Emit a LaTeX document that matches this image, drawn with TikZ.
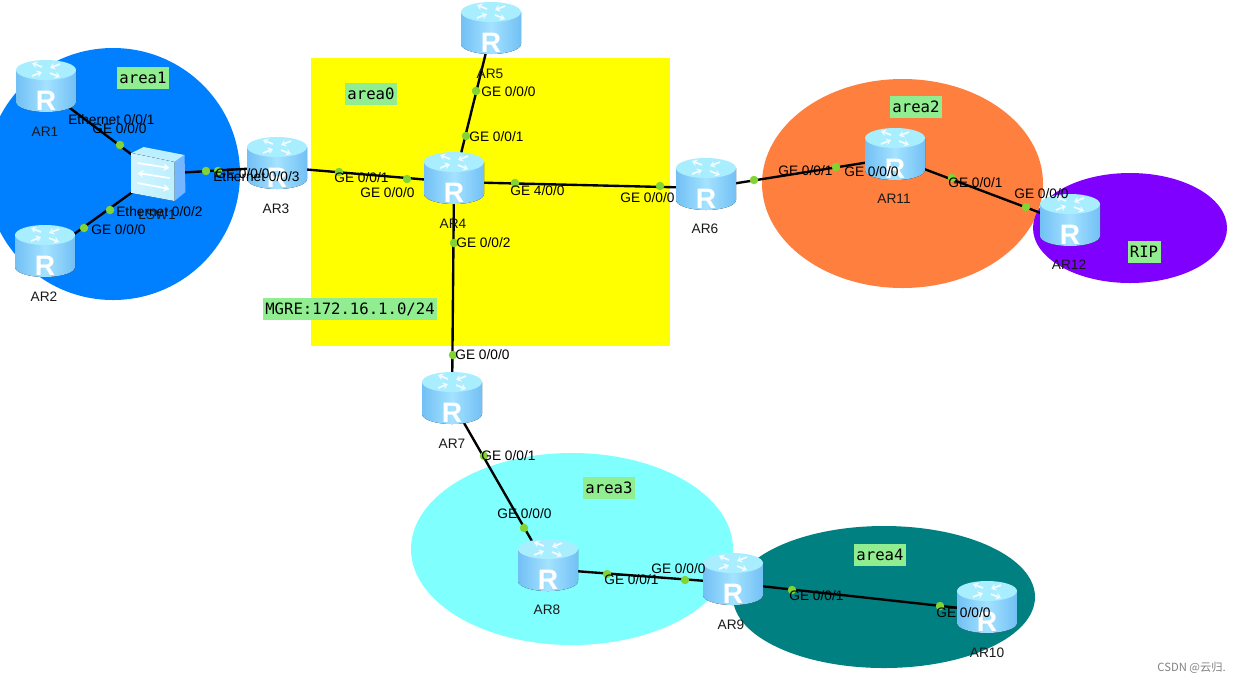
\documentclass[tikz,border=0pt]{standalone}
\usepackage{fontspec}
\setmainfont{Liberation Sans}
\newfontfamily\boxfont{DejaVu Sans Mono}
\newfontfamily\cjkfont{Noto Sans CJK SC}
\usetikzlibrary{arrows.meta,backgrounds}
\definecolor{AreaBlue}{HTML}{0080FF}
\definecolor{AreaYellow}{HTML}{FFFF00}
\definecolor{AreaOrange}{HTML}{FF7F3F}
\definecolor{AreaPurple}{HTML}{7F00FF}
\definecolor{AreaCyan}{HTML}{80FFFF}
\definecolor{AreaTeal}{HTML}{008080}
\definecolor{PortGreen}{HTML}{82D435}
\definecolor{TagGreen}{HTML}{90EE90}
\definecolor{RouterDark}{HTML}{72C0F5}
\definecolor{RouterLight}{HTML}{A4E2FF}
\definecolor{RouterTop}{HTML}{A8EEFF}
\definecolor{SwitchFront}{HTML}{BCEFFF}
\definecolor{SwitchSide}{HTML}{74B6FF}

\begin{document}
\begin{tikzpicture}[
    x=0.02cm,y=-0.02cm,
    link/.style={line width=1.35pt,black},
    port/.style={circle,fill=PortGreen,inner sep=0pt,minimum size=0.17cm},
    portlabel/.style={anchor=west,inner sep=0pt,font=\fontsize{7.8}{9}\selectfont,text=black},
    devlabel/.style={inner sep=0pt,font=\fontsize{7.8}{9}\selectfont,text=black!90},
    tag/.style={fill=TagGreen,inner sep=0pt,minimum height=0.44cm,font=\boxfont\fontsize{8.9}{10}\selectfont,text=black},
    routerbox/.style={minimum width=1.2cm,minimum height=1.22cm,inner sep=0pt,
      text=white,font=\bfseries\fontsize{16}{16}\selectfont,text height=0.8cm,text depth=0pt},
    swarrow/.style={white,line width=1pt,-{Stealth[length=1.2mm,width=1.5mm]}},
    rtarrow/.style={white!85!RouterTop,line width=1pt,-{Stealth[length=1mm,width=1.4mm]}},
    router/.pic={
      \fill[left color=RouterDark,right color=RouterDark,middle color=RouterLight]
        (-30,-20) -- (-30,12) arc[start angle=180,end angle=360,x radius=30,y radius=-10]
        -- (30,-20) -- cycle;
      \fill[RouterTop] (0,-20) ellipse[x radius=30,y radius=10];
      \draw[rtarrow] (-4,-23) -- (-14,-27);
      \draw[rtarrow] (14,-26) -- (4,-22);
      \draw[rtarrow] (-14,-14) -- (-4,-18);
      \draw[rtarrow] (4,-17) -- (14,-13);
      \node[routerbox] (box) at (0,0) {R};
    },
    lanswitch/.pic={
      \fill[SwitchFront] (-26,-21) -- (-14,-27) -- (27,-19) -- (17,-12) -- cycle;
      \fill[SwitchSide] (17,-12) -- (27,-19) -- (28,18) -- (17,27) -- cycle;
      \fill[left color=SwitchFront!70!white,right color=SwitchFront] (-26,-21) -- (17,-12) -- (17,27) -- (-26,19) -- cycle;
      \draw[swarrow] (-20,-11) -- (12,-6);
      \draw[swarrow] (12,4) -- (-20,-1);
      \draw[swarrow] (-20,9) -- (12,15);
      \node[minimum width=1.14cm,minimum height=1.12cm,inner sep=0pt] (box) at (0,0) {};
    }
  ]
    \useasboundingbox (0,0) rectangle (1239,684);

    % devices
    \foreach \n/\x/\y in {ar1/46/90,ar2/45/255,ar3/277/167,ar4/454/182,ar5/491/32,ar6/706/188,
      ar7/452/402,ar8/548/569,ar9/733/583,ar10/987/611,ar11/895/158,ar12/1070/224}
      \pic (\n) at (\x,\y) {router};
    \pic (lsw1) at (157.5,174) {lanswitch};

    \begin{scope}[on background layer]
      % areas
      \fill[AreaBlue] (113,174) ellipse[x radius=127,y radius=126];
      \fill[AreaYellow] (311,58) rectangle (670,346);
      \fill[AreaOrange] (902.5,183.5) ellipse[x radius=140.5,y radius=104.5];
      \fill[AreaPurple] (1130,228) ellipse[x radius=97,y radius=55];
      \fill[AreaCyan] (572,549) ellipse[x radius=161,y radius=96];
      \fill[AreaTeal] (884,597) ellipse[x radius=151,y radius=71];
      % links
      \foreach \a/\b in {ar1/lsw1,ar2/lsw1,lsw1/ar3,ar3/ar4,ar4/ar5,ar4/ar6,ar4/ar7,ar7/ar8,
        ar8/ar9,ar9/ar10,ar6/ar11,ar11/ar12}
        \draw[link] (\a box.center) -- (\b box.center);
    \end{scope}

    % ports
    \foreach \x/\y in {120/145,84/228,110/210,206/171,218/171,339/172,407/179,476/91,466/136,
      515/183,660/186,454/243,453/355,484/456,524/528,607/574,685/580,792/590,940/606,
      754/180,836/167,952/178,1026/207}
      \node[port] (p\x) at (\x,\y) {};

    % interface names
    \foreach \t/\x/\y [count=\i] in {{Ethernet 0/0/1}/68/120,{GE 0/0/0}/92/129,{Ethernet 0/0/2}/116/212,
      {GE 0/0/0}/91/230,{GE 0/0/0}/215/174,{Ethernet 0/0/3}/213/177,{GE 0/0/1}/334/178,{GE 0/0/0}/360/193,
      {GE 0/0/0}/481/92,{GE 0/0/1}/469/137,{GE 4/0/0}/510/191,{GE 0/0/0}/620/198,{GE 0/0/2}/456/243,
      {GE 0/0/0}/455/355,{GE 0/0/1}/481/456,{GE 0/0/0}/497/514,{GE 0/0/1}/604/580,{GE 0/0/0}/651/569,
      {GE 0/0/1}/789/596,{GE 0/0/0}/936/613,{GE 0/0/1}/778/171,{GE 0/0/0}/844/172,{GE 0/0/1}/948/183,
      {GE 0/0/0}/1014/194}
      \node[portlabel] (if\i) at (\x,\y) {\t};

    % device names
    \foreach \t/\x/\y in {AR1/45/132,AR2/44/297,AR3/276/209,AR4/453/224,AR5/490/74,AR6/705/229,
      AR7/452/444,AR8/547/610,AR9/731/625,AR10/987/653,AR11/894/199,AR12/1069/265,LSW1/157/215}
      \node[devlabel] (name\t) at (\x,\y) {\t};

    % area tags
    \node[tag,minimum width=1.04cm] (area1) at (143,78) {area1};
    \node[tag,minimum width=1.04cm] (area0) at (371,94) {area0};
    \node[tag,minimum width=1.04cm] (area2) at (916,107) {area2};
    \node[tag,minimum width=1.04cm] (area3) at (609,488) {area3};
    \node[tag,minimum width=1.04cm] (area4) at (880,555) {area4};
    \node[tag,minimum width=0.66cm] (rip) at (1144,252) {RIP};
    \node[tag,minimum width=3.5cm] (mgre) at (350,309) {MGRE:172.16.1.0/24};

    \node[anchor=east,inner sep=0pt,text=black!50,font=\cjkfont\fontsize{6.4}{8}\selectfont]
      (mark) at (1226,668) {CSDN @云归.};
  \end{tikzpicture}
\end{document}
